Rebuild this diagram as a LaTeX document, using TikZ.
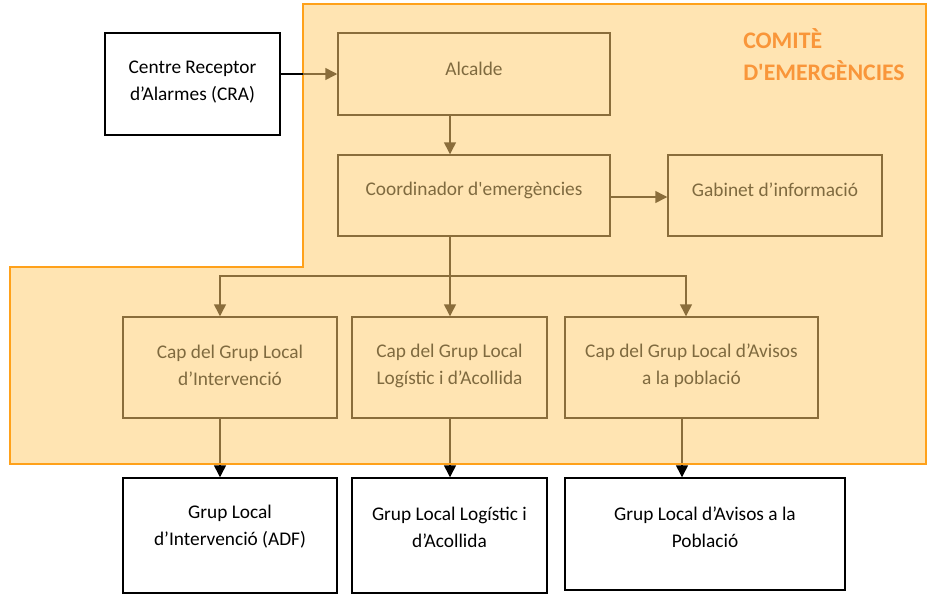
\documentclass[tikz,border=0pt]{standalone}
\usepackage{fontspec}
\newfontfamily\calfont{Carlito}
\usetikzlibrary{arrows.meta}
\definecolor{bfill}{HTML}{FFE4B2}
\definecolor{bline}{HTML}{8A6D3B}
\definecolor{btext}{HTML}{7F6A3F}
\definecolor{oline}{HTML}{FFA11A}
\definecolor{otitle}{HTML}{F9963A}
\tikzset{
  obox/.style={draw=bline, line width=1.1pt, fill=bfill, inner sep=0pt},
  wbox/.style={draw=black, line width=1.1pt, fill=white, inner sep=0pt},
  otext/.style={text=btext, font=\calfont\fontsize{14.5}{20.2}\selectfont, align=center, inner sep=0pt},
  wtext/.style={text=black, font=\calfont\fontsize{14.5}{20.2}\selectfont, align=center, inner sep=0pt},
  barrow/.style={draw=bline, line width=1.1pt, -{Triangle[length=9pt,width=9pt]}},
  bline/.style={draw=bline, line width=1.1pt},
  karrow/.style={draw=black, line width=1.1pt, -{Triangle[length=9pt,width=9pt]}},
  kline/.style={draw=black, line width=1.1pt},
}
\begin{document}
\begin{tikzpicture}[x=0.75pt,y=-0.75pt]
\useasboundingbox (0,0) rectangle (929,597);
% committee region
\path[fill=bfill, draw=oline, line width=1.1pt]
  (303,4) -- (926,4) -- (926,464) -- (10,464) -- (10,267) -- (303,267) -- cycle;
\node[font=\calfont\fontsize{17.8}{24}\selectfont\bfseries, text=otitle, anchor=north west, align=left, inner sep=0pt] (title) at (743,28) {COMITÈ\\D'EMERGÈNCIES};

% boxes
\node[wbox, minimum width=175*0.75pt, minimum height=102*0.75pt] (cra) at (192.5,84) {};
\node[wtext] (cra-t) at (192.5,82.5) {Centre Receptor\\d’Alarmes (CRA)};

\node[obox, minimum width=272*0.75pt, minimum height=82*0.75pt] (alc) at (474,74) {};
\node[otext] (alc-t) at (474,69) {Alcalde};

\node[obox, minimum width=272*0.75pt, minimum height=81*0.75pt] (coo) at (474,195.5) {};
\node[otext] (coo-t) at (474,190) {Coordinador d'emergències};

\node[obox, minimum width=214*0.75pt, minimum height=81*0.75pt] (gab) at (775,195.5) {};
\node[otext] (gab-t) at (775,190) {Gabinet d’informació};

\node[obox, minimum width=214*0.75pt, minimum height=101*0.75pt] (cap1) at (230,367.5) {};
\node[otext] (cap1-t) at (230,365.5) {Cap del Grup Local\\d’Intervenció};

\node[obox, minimum width=195*0.75pt, minimum height=101*0.75pt] (cap2) at (449.5,367.5) {};
\node[otext] (cap2-t) at (449.5,365.5) {Cap del Grup Local\\Logístic i d’Acollida};

\node[obox, minimum width=253*0.75pt, minimum height=101*0.75pt] (cap3) at (691.5,367.5) {};
\node[otext] (cap3-t) at (691.5,365.5) {Cap del Grup Local d’Avisos\\a la població};

\node[wbox, minimum width=214*0.75pt, minimum height=115*0.75pt] (g1) at (230,535.5) {};
\node[wtext] (g1-t) at (230,527) {Grup Local\\d’Intervenció (ADF)};

\node[wbox, minimum width=195*0.75pt, minimum height=115*0.75pt] (g2) at (449.5,535.5) {};
\node[wtext] (g2-t) at (449.5,527) {Grup Local Logístic i\\d’Acollida};

\node[wbox, minimum width=280*0.75pt, minimum height=112*0.75pt] (g3) at (705,534) {};
\node[wtext] (g3-t) at (705,527) {Grup Local d’Avisos a la\\Població};

% connectors
\coordinate (edgeL) at (303,74);
\draw[kline] (cra.east |- edgeL) -- (edgeL);
\draw[barrow] (edgeL) -- (alc.west |- edgeL);

\draw[barrow] (alc.south -| 450,0) -- (coo.north -| 450,0);
\coordinate (gy) at (0,197);
\draw[barrow] (coo.east |- gy) -- (gab.west |- gy);

\coordinate (bus) at (450,276);
\draw[bline] (coo.south -| bus) -- (bus);
\draw[barrow] (bus) -- (220,276) -- (cap1.north -| 220,0);
\draw[barrow] (bus) -- (cap2.north -| bus);
\draw[barrow] (bus) -- (686,276) -- (cap3.north -| 686,0);

\coordinate (b1) at (220,464);
\coordinate (b2) at (450,464);
\coordinate (b3) at (682,464);
\draw[bline] (cap1.south -| b1) -- (b1);
\draw[bline] (cap2.south -| b2) -- (b2);
\draw[bline] (cap3.south -| b3) -- (b3);
\draw[karrow] (b1) -- (g1.north -| b1);
\draw[karrow] (b2) -- (g2.north -| b2);
\draw[karrow] (b3) -- (g3.north -| b3);
\draw[oline, line width=1.1pt] (10,464) -- (926,464);
\end{tikzpicture}
\end{document}
